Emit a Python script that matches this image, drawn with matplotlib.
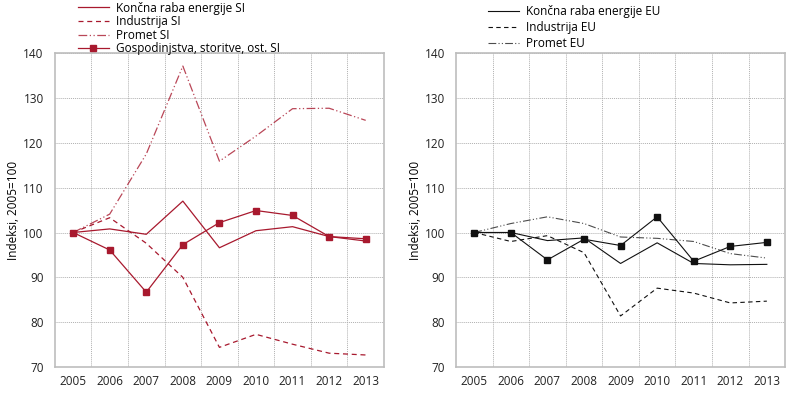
import numpy as np
import matplotlib
matplotlib.use("Agg")
import matplotlib.pyplot as plt

plt.rcParams["font.family"] = ["Open Sans", "DejaVu Sans"]
plt.rcParams["font.size"] = 8.5

years = ["2005", "2006", "2007", "2008", "2009", "2010", "2011", "2012", "2013"]

# Slovenia
koncna_si = [100, 100.8, 99.6, 107.0, 96.6, 100.4, 101.3, 99.1, 98.1]
industrija_si = [100, 103.3, 97.6, 90.0, 74.4, 77.3, 75.1, 73.1, 72.7]
promet_si = [100, 104.1, 117.5, 137.1, 115.9, 121.5, 127.6, 127.7, 125.0]
gospod_si = [100, 96.1, 86.7, 97.3, 102.2, 104.9, 103.8, 99.1, 98.6]

# EU
koncna_eu = [100, 100.0, 98.2, 98.8, 93.1, 97.7, 93.1, 92.8, 92.9]
industrija_eu = [100, 98.0, 99.3, 95.5, 81.4, 87.6, 86.5, 84.3, 84.7]
promet_eu = [100, 102.0, 103.5, 102.0, 99.0, 98.7, 98.0, 95.3, 94.3]
gospod_eu = [100, 100.0, 93.9, 98.5, 97.1, 103.5, 93.6, 96.9, 97.8]

RED = "#a8192e"
BLACK = "#111111"
x = np.arange(len(years))

fig = plt.figure(figsize=(7.95, 3.96), dpi=100)
ax1 = fig.add_axes([0.069, 0.073, 0.414, 0.793])
ax2 = fig.add_axes([0.5736, 0.073, 0.414, 0.793])


def style_axes(ax):
    ax.set_xlim(-0.5, len(years) - 0.5)
    ax.set_ylim(70, 140)
    ax.set_yticks(range(70, 141, 10))
    ax.set_xticks(x)
    ax.set_xticklabels(years)
    ax.set_xticks(x[:-1] + 0.5, minor=True)
    ax.tick_params(which="both", length=0)
    ax.tick_params(axis="y", pad=8, colors="#222222")
    ax.tick_params(axis="x", pad=6, colors="#222222")
    ax.grid(True, axis="y", which="major", color="#b0b0b0", linestyle=(0, (1, 1)), linewidth=0.7)
    ax.grid(True, axis="x", which="minor", color="#b0b0b0", linestyle=(0, (1, 1)), linewidth=0.7)
    for s in ax.spines.values():
        s.set_color("#bdbdbd")
        s.set_linewidth(1.2)
    ax.set_ylabel("Indeksi, 2005=100", labelpad=2)


style_axes(ax1)
style_axes(ax2)

# SI panel
l1, = ax1.plot(x, koncna_si, color=RED, lw=0.9, label="Končna raba energije SI")
l2, = ax1.plot(x, industrija_si, color=RED, lw=0.9, ls=(0, (4, 3)), label="Industrija SI")
l3, = ax1.plot(x, promet_si, color=RED, lw=0.9, ls=(0, (7, 2, 1, 2, 1, 2)), alpha=0.8, label="Promet SI")
l4, = ax1.plot(x, gospod_si, color=RED, lw=0.9, marker="s", markersize=4.2, label="Gospodinjstva, storitve, ost. SI")

# EU panel
m1, = ax2.plot(x, koncna_eu, color=BLACK, lw=0.8, label="Končna raba energije EU")
m2, = ax2.plot(x, industrija_eu, color=BLACK, lw=0.8, ls=(0, (4, 3)), label="Industrija EU")
m3, = ax2.plot(x, promet_eu, color=BLACK, lw=0.8, ls=(0, (7, 2, 1, 2, 1, 2)), alpha=0.75, label="Promet EU")
ax2.plot(x, gospod_eu, color=BLACK, lw=0.8, marker="s", markersize=4.2)

fig.legend(handles=[l1, l2, l3, l4], loc="upper left", bbox_to_anchor=(0.086, 1.02),
           frameon=False, handlelength=2.6, handletextpad=0.6, labelspacing=0.05,
           borderpad=0.3, fontsize=8.5, markerscale=0.9)
fig.legend(handles=[m1, m2, m3], loc="upper left", bbox_to_anchor=(0.602, 1.01),
           frameon=False, handlelength=2.6, handletextpad=0.6, labelspacing=0.22,
           borderpad=0.3, fontsize=8.5)

plt.savefig("out.png", dpi=100)
